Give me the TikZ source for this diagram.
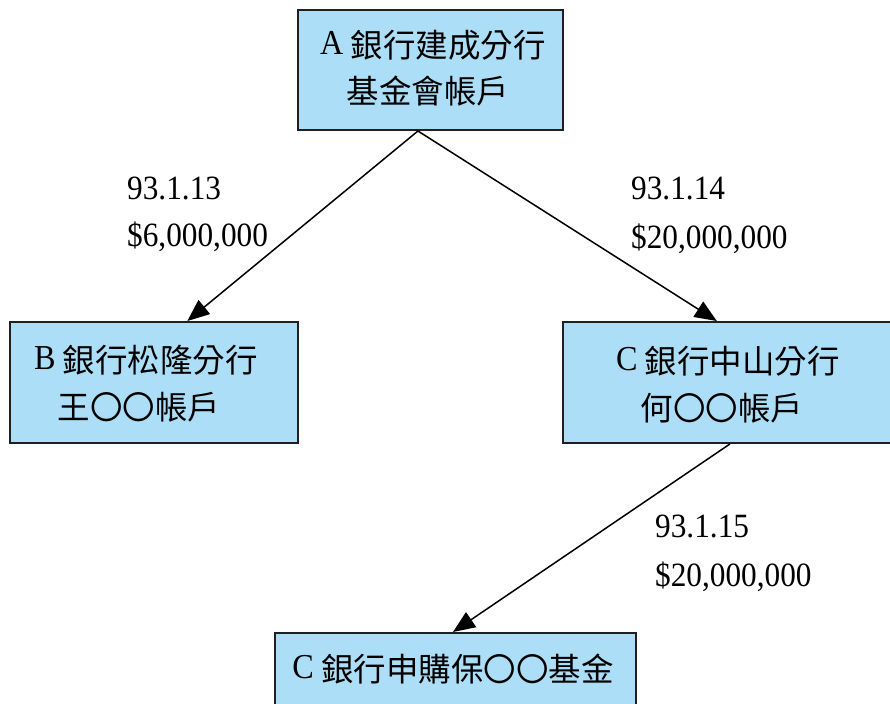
\documentclass[tikz,border=0pt]{standalone}
\usepackage{fontspec}
\setmainfont{Liberation Serif}
\newfontfamily\numfont{Liberation Serif}[FakeStretch=0.92]
\newfontfamily\cjk{Noto Sans CJK TC}
\usetikzlibrary{arrows.meta,calc}
\definecolor{boxfill}{RGB}{172,223,247}
\definecolor{boxline}{RGB}{35,31,32}
\newcommand{\lat}[1]{\raisebox{3pt}{\fontsize{35}{35}\selectfont\numfont #1}}
\begin{document}
\begin{tikzpicture}[x=1pt,y=-1pt,
  box/.style={draw=boxline, line width=2pt, fill=boxfill, inner sep=0pt},
  cjktext/.style={font=\fontsize{32.5}{32.5}\selectfont\cjk, inner sep=0pt, anchor=base},
  amount/.style={font=\fontsize{34}{34}\selectfont\numfont, inner sep=0pt, anchor=base west},
  conn/.style={line width=1.5pt, draw=black, -{Triangle[length=22pt,width=18pt]}}]
\useasboundingbox (0,0) rectangle (890,703);
\clip (0,0) rectangle (890,703);
% boxes
\node[box, minimum width=265pt, minimum height=120pt] (A) at (430.5,70) {};
\node[box, minimum width=288pt, minimum height=121pt] (B) at (154,382.5) {};
\node[box, minimum width=342pt, minimum height=121pt] (C) at (734,382.5) {};
\node[box, minimum width=361pt, minimum height=87pt] (D) at (455.5,676.5) {};
% box texts
\node[cjktext] (A1) at (433,58) {\lat{A} 銀行建成分行};
\node[cjktext] (A2) at (428,104) {基金會帳戶};
\node[cjktext] (B1) at (146,372) {\lat{B} 銀行松隆分行};
\node[cjktext] (B2) at (139,419) {王〇〇帳戶};
\node[cjktext] (C1) at (728,373) {\lat{C} 銀行中山分行};
\node[cjktext] (C2) at (722,420) {何〇〇帳戶};
\node[cjktext] (D1) at (453,681) {\lat{C} 銀行申購保〇〇基金};
% connectors
\coordinate (As) at ($(A.south west)!0.453!(A.south east)$);
\coordinate (Bn) at ($(B.north west)!0.615!(B.north east)$);
\coordinate (Cn) at ($(C.north west)!0.450!(C.north east)$);
\coordinate (Cs) at ($(C.south west)!0.488!(C.south east)$);
\coordinate (Dn) at ($(D.north west)!0.493!(D.north east)$);
\draw[conn] (As) -- (Bn);
\draw[conn] (As) -- (Cn);
\draw[conn] (Cs) -- (Dn);
% labels
\node[amount] (L1a) at (127,200) {93.1.13};
\node[amount] (L1b) at (127,246) {\$6,000,000};
\node[amount] (L2a) at (631,200) {93.1.14};
\node[amount] (L2b) at (631,248) {\$20,000,000};
\node[amount] (L3a) at (655,537) {93.1.15};
\node[amount] (L3b) at (655,586) {\$20,000,000};
\end{tikzpicture}
\end{document}
